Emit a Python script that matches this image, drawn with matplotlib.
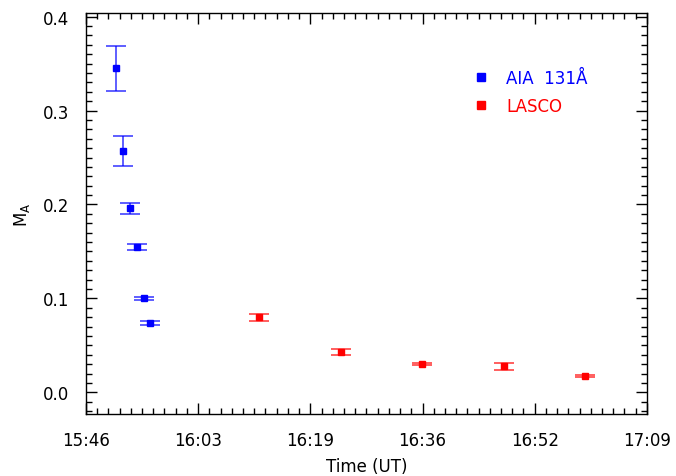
import matplotlib
matplotlib.use("Agg")
import matplotlib.pyplot as plt
from matplotlib.ticker import MultipleLocator, FixedLocator, FormatStrFormatter
import numpy as np

# Alfven Mach number estimates from AIA 131 and LASCO observations
aia_times = ["15:50:24", "15:51:28", "15:52:30", "15:53:30", "15:54:35", "15:55:28"]
aia_ma = [0.345, 0.257, 0.196, 0.155, 0.100, 0.074]
aia_err = [0.024, 0.016, 0.0057, 0.003, 0.002, 0.002]

lasco_times = ["16:11:36", "16:23:42", "16:35:42", "16:47:48", "16:59:54"]
lasco_ma = [0.080, 0.043, 0.030, 0.028, 0.017]
lasco_err = [0.0036, 0.0036, 0.001, 0.0037, 0.001]

tick_labels = ["15:46", "16:03", "16:19", "16:36", "16:52", "17:09"]
t_start = "15:46:00"
t_end = "17:09:00"


def to_min(s):
    h, m, sec = (int(v) for v in s.split(":"))
    return h * 60 + m + sec / 60.0


x0 = to_min(t_start)
x1 = to_min(t_end)
aia_x = [to_min(t) - x0 for t in aia_times]
lasco_x = [to_min(t) - x0 for t in lasco_times]
span = x1 - x0

plt.rcParams["font.family"] = ["DejaVu Sans"]
fig = plt.figure(figsize=(6.76, 4.77), dpi=100)
ax = fig.add_axes([0.127, 0.130, 0.830, 0.841])

blue = "#0000ff"
red = "#ff0000"

ax.errorbar(aia_x, aia_ma, yerr=aia_err, fmt="none", ecolor=blue,
            elinewidth=1.1, capsize=7, capthick=1.1, alpha=0.8)
ax.plot(aia_x, aia_ma, "s", color=blue, ms=3.8, label="AIA  131Å")
ax.errorbar(lasco_x, lasco_ma, yerr=lasco_err, fmt="none", ecolor=red,
            elinewidth=1.1, capsize=7, capthick=1.1, alpha=0.8)
ax.plot(lasco_x, lasco_ma, "s", color=red, ms=3.8, label="LASCO")

ax.set_xlim(0, span)
ax.set_ylim(-0.023, 0.404)

major_x = np.linspace(0, span, len(tick_labels))
ax.xaxis.set_major_locator(FixedLocator(major_x))
ax.xaxis.set_minor_locator(FixedLocator(np.linspace(0, span, 10 * (len(tick_labels) - 1) + 1)))
ax.set_xticklabels(tick_labels)
ax.yaxis.set_major_locator(MultipleLocator(0.1))
ax.yaxis.set_minor_locator(MultipleLocator(0.01))
ax.yaxis.set_major_formatter(FormatStrFormatter("%.1f"))

ax.tick_params(which="both", direction="in", top=True, right=True,
               labelsize=12, width=1)
ax.tick_params(axis="x", which="major", pad=12)
ax.tick_params(axis="y", which="major", pad=12)
ax.tick_params(which="major", length=8)
ax.tick_params(which="minor", length=4)
for sp in ax.spines.values():
    sp.set_linewidth(1)

ax.set_xlabel("Time (UT)", fontsize=12, labelpad=6)
ax.set_ylabel("M$_\\mathregular{A}$", fontsize=12, labelpad=8)

leg = ax.legend(loc="upper left", bbox_to_anchor=(0.666, 0.898), frameon=False,
                numpoints=1, handlelength=0.8, handletextpad=1.1,
                labelspacing=0.62, fontsize=12, labelcolor="linecolor",
                markerscale=1.4)

fig.savefig("out.png", dpi=100)
